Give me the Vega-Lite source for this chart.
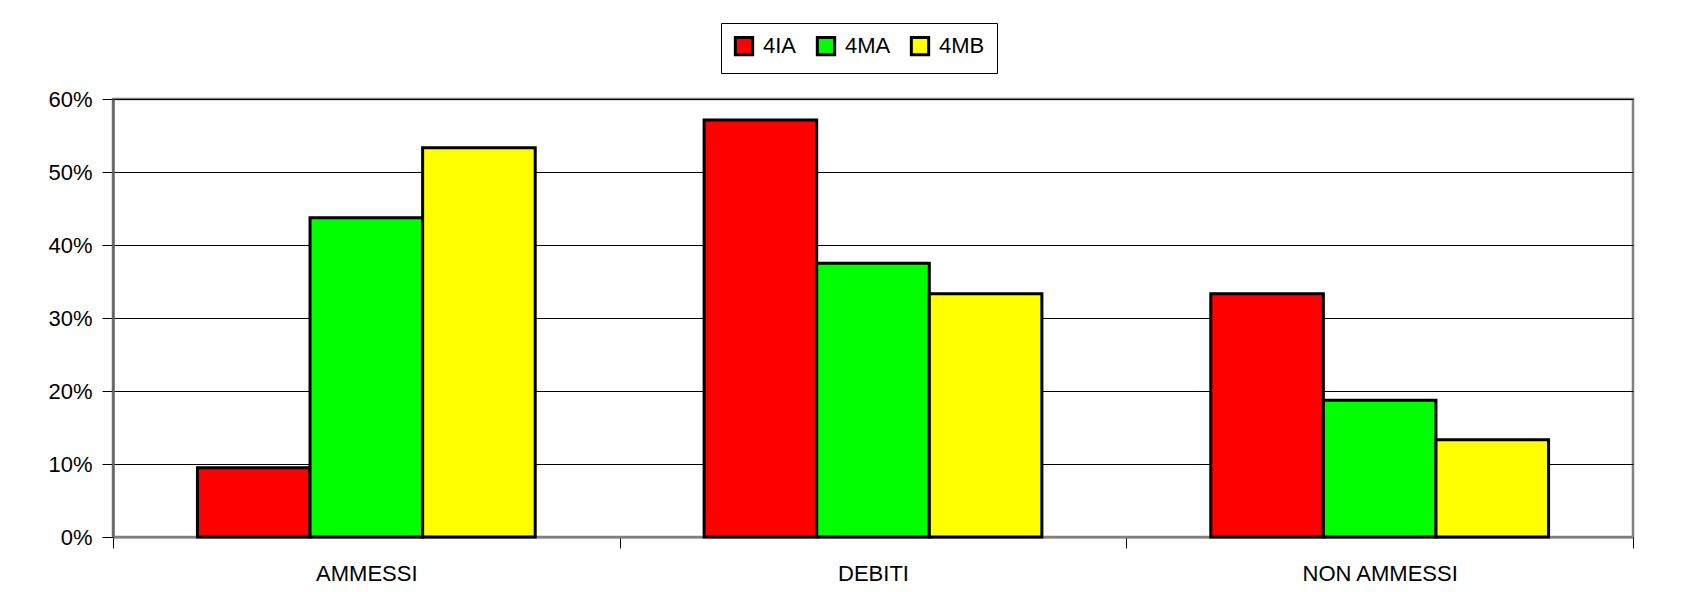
{
  "$schema": "https://vega.github.io/schema/vega-lite/v6.json",
  "width": 1520,
  "height": 438,
  "autosize": {"type": "none"},
  "padding": {"left": 113, "top": 99, "right": 49, "bottom": 55},
  "background": "white",
  "config": {
    "font": "Liberation Sans",
    "view": {"stroke": "#808080", "strokeWidth": 2.5}
  },
  "data": {
    "values": [
      {"esito": "AMMESSI", "classe": "4IA", "pct": 0.095},
      {"esito": "AMMESSI", "classe": "4MA", "pct": 0.4375},
      {"esito": "AMMESSI", "classe": "4MB", "pct": 0.5333},
      {"esito": "DEBITI", "classe": "4IA", "pct": 0.5714},
      {"esito": "DEBITI", "classe": "4MA", "pct": 0.375},
      {"esito": "DEBITI", "classe": "4MB", "pct": 0.3333},
      {"esito": "NON AMMESSI", "classe": "4IA", "pct": 0.3333},
      {"esito": "NON AMMESSI", "classe": "4MA", "pct": 0.1875},
      {"esito": "NON AMMESSI", "classe": "4MB", "pct": 0.1333}
    ]
  },
  "mark": {"type": "bar", "stroke": "black", "strokeWidth": 3},
  "encoding": {
    "x": {
      "field": "esito",
      "type": "nominal",
      "sort": ["AMMESSI", "DEBITI", "NON AMMESSI"],
      "scale": {"paddingInner": 0, "paddingOuter": 0},
      "axis": {
        "title": null,
        "labelAngle": 0,
        "tickBand": "extent",
        "domainColor": "#808080",
        "domainWidth": 2,
        "tickColor": "black",
        "tickWidth": 1,
        "tickSize": 11,
        "labelFontSize": 22,
        "labelColor": "black",
        "labelPadding": 15,
        "labelFont": "Liberation Sans"
      }
    },
    "xOffset": {
      "field": "classe",
      "sort": ["4IA", "4MA", "4MB"],
      "scale": {"paddingInner": 0, "paddingOuter": 0.75}
    },
    "y": {
      "field": "pct",
      "type": "quantitative",
      "scale": {"domain": [0, 0.6], "nice": false},
      "axis": {
        "title": null,
        "format": ".0%",
        "values": [0, 0.1, 0.2, 0.3, 0.4, 0.5, 0.6],
        "grid": true,
        "gridColor": "black",
        "gridWidth": 1,
        "gridOpacity": 1,
        "domainColor": "#666666",
        "domainWidth": 2.5,
        "tickColor": "black",
        "tickWidth": 1,
        "tickSize": 11,
        "labelFontSize": 22,
        "labelColor": "black",
        "labelPadding": 10,
        "labelFont": "Liberation Sans"
      }
    },
    "color": {
      "field": "classe",
      "type": "nominal",
      "scale": {"domain": ["4IA", "4MA", "4MB"], "range": ["#ff0000", "#00ff00", "#ffff00"]},
      "legend": {
        "title": null,
        "orient": "none",
        "legendX": 608,
        "legendY": -76,
        "direction": "horizontal",
        "strokeColor": "black",
        "fillColor": "white",
        "padding": 12,
        "symbolType": "square",
        "symbolSize": 300,
        "symbolStrokeColor": "black",
        "symbolStrokeWidth": 3,
        "symbolOpacity": 1,
        "labelFontSize": 22,
        "labelColor": "black",
        "labelFont": "Liberation Sans",
        "labelOffset": 8,
        "columnPadding": 14
      }
    }
  }
}
